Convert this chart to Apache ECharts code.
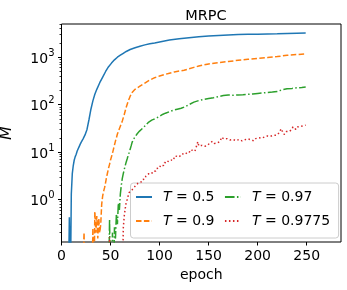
<!DOCTYPE html>
<html>
<head>
<meta charset="utf-8">
<script src="https://cdn.jsdelivr.net/npm/echarts@6/dist/echarts.min.js"></script>
<style>html,body{margin:0;padding:0;background:#fff}#c{width:347px;height:290px}</style>
</head>
<body>
<div id="c"></div>
<script>
// ---- data (epoch, M) ; 0.01 stands for M = 0 (below the log axis) ----
const seriesNames = ['T = 0.5', 'T = 0.9', 'T = 0.97', 'T = 0.9775'];
const xTicks = [0, 50, 100, 150, 200, 250];
const yMajorTicks = [1, 10, 100, 1000];
const yMinorTicks = [0.2,0.3,0.4,0.5,0.6,0.7,0.8,0.9,2,3,4,5,6,7,8,9,20,30,40,50,60,70,80,90,200,300,400,500,600,700,800,900,2000,3000,4000,5000];

const dataT05 = [[7,0.01],[8,0.42],[9,0.01],[10,1.3],[11,3.5],[12,5.2],[13,6.8],[14,8],[15,9],[16,10.5],[17,11.5],[18,13],[19,14.5],[20,16],[22,19],[24,23],[26,30],[28,48],[30,80],[32,120],[34,165],[36,210],[39,290],[42,380],[45,500],[48,630],[51,750],[54,880],[57,1000],[60,1100],[63,1210],[66,1320],[70,1450],[75,1580],[80,1700],[85,1820],[90,1920],[95,2000],[100,2100],[110,2300],[120,2450],[130,2580],[140,2700],[150,2800],[160,2880],[170,2950],[180,3000],[190,3030],[200,3060],[210,3090],[220,3120],[230,3160],[240,3190],[249,3220]];

const dataT09 = [[21,0.01],[22,0.01],[23,0.2],[24,0.01],[31,0.01],[32,0.25],[33,0.01],[34,0.55],[35,0.2],[36,0.45],[37,0.15],[38,0.4],[39,0.2],[40,0.3],[41,0.8],[42,1.2],[43,1.5],[44,1.8],[45,2.3],[46,3.0],[47,3.7],[48,4.6],[49,5.5],[50,6.8],[51,8],[52,9.5],[53,11.5],[54,14],[55,17],[56,20],[57,24],[58,27],[59,31],[60,35],[62,45],[64,62],[66,88],[68,118],[70,150],[72,180],[75,210],[80,245],[85,285],[90,330],[95,370],[100,400],[105,430],[110,460],[115,490],[120,510],[125,530],[130,570],[135,610],[140,650],[150,720],[160,770],[170,810],[180,860],[190,900],[200,940],[210,980],[220,1030],[230,1100],[240,1140],[249,1170]];

const dataT097 = [[48,0.01],[49,0.38],[50,0.01],[51,0.01],[52,0.2],[53,0.01],[54,0.26],[55,0.15],[56,0.5],[57,0.3],[58,0.85],[59,0.6],[60,1.3],[61,2.0],[62,2.8],[63,3.5],[64,4.3],[65,5.2],[66,6.2],[67,7.2],[68,8.5],[69,9.8],[70,11.5],[71,13.5],[72,16],[73,18],[75,21],[77,24],[79,27],[81,29],[83,32],[85,35],[87,39],[89,43],[92,47],[95,50],[98,54],[100,56],[103,62],[106,66],[110,71],[114,76],[118,80],[122,84],[126,90],[130,100],[135,113],[140,122],[145,128],[150,134],[155,140],[160,148],[165,155],[170,160],[175,158],[180,160],[185,162],[190,165],[195,168],[200,172],[205,176],[210,180],[215,184],[220,190],[225,205],[230,215],[235,220],[240,226],[245,230],[249,235]];

const dataT09775 = [[48,0.01],[49,0.16],[50,0.01],[62,0.01],[63,0.25],[64,0.45],[65,0.65],[66,0.88],[67,1.0],[68,1.2],[69,1.4],[70,1.5],[71,1.45],[72,1.6],[73,1.75],[74,1.7],[75,1.9],[76,1.85],[77,2.0],[78,2.2],[79,2.1],[80,2.35],[81,2.3],[82,2.6],[83,2.5],[84,2.8],[85,2.7],[86,3.1],[87,2.9],[88,3.3],[89,3.5],[90,3.2],[91,3.7],[92,3.5],[93,3.9],[94,3.6],[95,4.2],[96,4.0],[97,4.5],[98,4.3],[99,4.9],[100,4.6],[101,5.3],[102,5.0],[103,5.6],[104,5.2],[105,6.0],[106,5.7],[107,6.4],[108,5.9],[109,6.6],[110,6.3],[111,7.2],[112,6.7],[113,7.5],[114,7.0],[115,7.8],[116,7.3],[117,8.2],[118,7.6],[119,8.5],[120,7.9],[121,8.6],[122,8.2],[123,9.2],[124,8.5],[125,9.5],[126,8.9],[127,9.8],[128,9.2],[129,10.3],[130,9.6],[131,10.6],[132,9.9],[133,11],[134,10.3],[135,11.4],[136,10.4],[137,12],[138,11.5],[139,16.5],[140,13.5],[141,14],[142,12.5],[143,13.8],[144,13],[145,14],[146,13.2],[147,14.2],[148,13.4],[149,13.8],[150,14.6],[151,15.5],[152,16.8],[153,16.2],[154,16.8],[155,15.8],[156,15.2],[157,16],[158,15],[159,15.6],[160,14.6],[161,15.2],[162,17],[163,20.5],[164,19],[165,19.8],[166,18.8],[167,19.6],[168,18.6],[169,19.2],[170,18.2],[171,19],[172,18],[173,18.8],[174,17.6],[175,18.4],[176,19.6],[177,18.2],[178,17.4],[179,18.2],[180,17.6],[181,18.4],[182,17.4],[183,18],[184,17.2],[185,18.4],[186,18.8],[187,18.2],[188,18.8],[189,18.4],[190,19],[191,18.4],[192,18.8],[193,18.2],[194,17.6],[195,16.8],[196,17.2],[197,18.5],[198,19.2],[199,19.8],[200,19.3],[201,20],[202,19.5],[203,20.2],[204,19.6],[205,20.4],[206,20],[207,20.8],[208,21.3],[209,21],[210,21.8],[211,21.3],[212,22],[213,21.5],[214,21],[215,21.8],[216,22.5],[217,22],[218,23],[219,22.5],[220,23.5],[221,24.5],[222,25.5],[223,27],[224,31],[225,28],[226,26.5],[227,23.5],[228,25.5],[229,27],[230,26],[231,28],[232,27],[233,29],[234,28],[235,30],[236,34],[237,33],[238,31],[239,30],[240,32],[241,34],[242,31],[243,33],[244,35],[245,34],[246,37],[247,36],[248,38],[249,37]];

const colors = ['#1f77b4', '#ff7f0e', '#2ca02c', '#d62728'];
const dashes = ['solid', [5.5, 2.4], [9.6, 2.4, 1.5, 2.4], [1.5, 2.5]];
const allData = [dataT05, dataT09, dataT097, dataT09775];

const FONT = 'DejaVu Sans';
const FS = 14;

const chart = echarts.init(document.getElementById('c'), null, {renderer: 'canvas'});
const yCommon = {
  type: 'log', logBase: 10, min: 0.127, max: 5010, position: 'left',
  splitLine: {show: false}, axisLine: {show: false}
};
chart.setOption({
  animation: false,
  backgroundColor: '#fff',
  title: {
    text: 'MRPC', left: 201, top: 4, textAlign: 'center',
    textStyle: {fontFamily: FONT, fontSize: 14.5, fontWeight: 'normal', color: '#000'}
  },
  grid: {left: 61.5, right: 6, top: 24, bottom: 48, show: true, borderColor: '#000', borderWidth: 1,
         backgroundColor: '#fff', outerBoundsMode: 'none'},
  legend: {
    data: [seriesNames[0], seriesNames[2], seriesNames[1], seriesNames[3]],
    left: 130.5, top: 183, width: 230, orient: 'horizontal',
    itemWidth: 16, itemHeight: 10, itemGap: 6,
    padding: [5, 5, 8, 4.5],
    backgroundColor: 'rgba(255,255,255,0.8)', borderColor: '#cccccc', borderWidth: 1, borderRadius: 3,
    itemStyle: {color: 'rgba(0,0,0,0)', borderWidth: 0, opacity: 0},
    formatter: function (n) { return '{i|T}{t| = ' + n.split(' = ')[1] + '}'; },
    textStyle: {
      fontFamily: FONT, fontSize: FS, color: '#000', backgroundColor: 'rgba(255,255,255,0)',
      rich: {
        i: {fontFamily: FONT, fontSize: FS, fontStyle: 'italic', padding: [2, 0, 2, 6], lineHeight: 17},
        t: {fontFamily: FONT, fontSize: FS, padding: [2, 3.5, 2, 0], lineHeight: 17}
      }
    }
  },
  xAxis: {
    type: 'value', min: 0, max: 285,
    name: 'epoch', nameLocation: 'middle', nameGap: 26,
    nameTextStyle: {fontFamily: FONT, fontSize: FS, color: '#000'},
    axisLine: {show: false},
    axisTick: {show: true, inside: false, length: 3.5, lineStyle: {color: '#000', width: 1}, customValues: xTicks},
    axisLabel: {fontFamily: FONT, fontSize: FS, color: '#000', margin: 7, customValues: xTicks},
    splitLine: {show: false}
  },
  yAxis: [
    Object.assign({}, yCommon, {
      name: 'M', nameLocation: 'middle', nameGap: 47, nameRotate: 90,
      nameTextStyle: {fontFamily: FONT, fontSize: 16, fontStyle: 'italic', color: '#000'},
      axisTick: {show: true, length: 3.5, lineStyle: {color: '#000', width: 1}, customValues: yMajorTicks},
      axisLabel: {
        customValues: yMajorTicks, margin: 7,
        formatter: function (v) {
          const e = Math.round(Math.log10(v));
          return '{b|10}{s|' + (e < 0 ? '-' : '') + Math.abs(e) + '}';
        },
        rich: {
          b: {fontFamily: FONT, fontSize: FS, color: '#000', lineHeight: 18, verticalAlign: 'bottom'},
          s: {fontFamily: FONT, fontSize: 10, color: '#000', lineHeight: 18, verticalAlign: 'top', padding: [0, 0, 6, 0]}
        }
      }
    }),
    Object.assign({}, yCommon, {
      axisTick: {show: true, length: 2, lineStyle: {color: '#000', width: 0.8}, customValues: yMinorTicks},
      axisLabel: {show: false, customValues: yMinorTicks}
    })
  ],
  series: allData.map(function (d, i) {
    return {
      name: seriesNames[i], type: 'line', data: d, yAxisIndex: 0,
      showSymbol: false, symbol: 'none', clip: true, z: 2 + i,
      color: colors[i],
      lineStyle: {color: colors[i], width: 1.5, type: dashes[i]}
    };
  })
});
</script>
</body>
</html>
